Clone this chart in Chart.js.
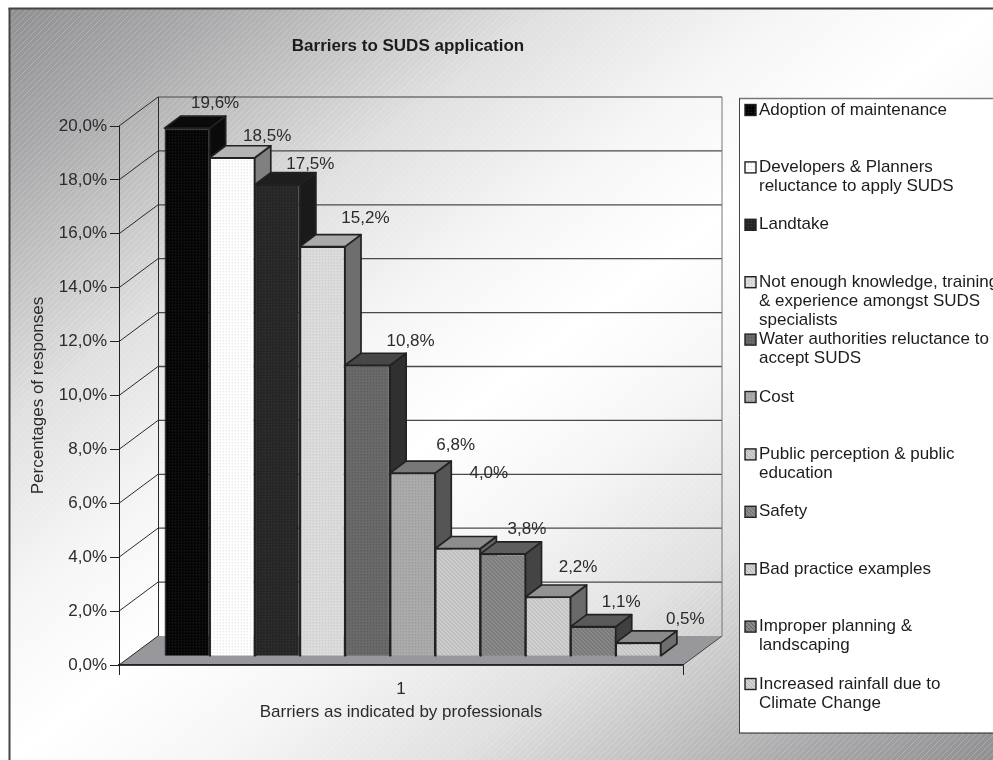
<!DOCTYPE html>
<html>
<head>
<meta charset="utf-8">
<title>Barriers to SUDS application</title>
<script src="https://cdn.jsdelivr.net/npm/chart.js@4/dist/chart.umd.js"></script>
<style>
  html, body { margin: 0; padding: 0; background: #fff; overflow: hidden; }
  canvas { display: block; }
</style>
</head>
<body>
<canvas id="chart" width="993" height="760"></canvas>
<script>
// Survey results, one series per barrier
const categories = ['1'];
const barrierNames = [
  ['Adoption of maintenance'],
  ['Developers & Planners', 'reluctance to apply SUDS'],
  ['Landtake'],
  ['Not enough knowledge, training', '& experience amongst SUDS', 'specialists'],
  ['Water authorities reluctance to', 'accept SUDS'],
  ['Cost'],
  ['Public perception & public', 'education'],
  ['Safety'],
  ['Bad practice examples'],
  ['Improper planning &', 'landscaping'],
  ['Increased rainfall due to', 'Climate Change']
];
const barrierValues = [19.6, 18.5, 17.5, 15.2, 10.8, 6.8, 4.0, 3.8, 2.2, 1.1, 0.5];

const chartTitle = 'Barriers to SUDS application';
const yAxisTitle = 'Percentages of responses';
const xAxisTitle = 'Barriers as indicated by professionals';

// Face shades for each bar: front base, front speckle, top, side
const frontBase = ['#050505', '#ffffff', '#262626', '#dcdcdc', '#6a6a6a', '#ababab', '#cecece', '#8c8c8c', '#d2d2d2', '#8a8a8a', '#d4d4d4'];
const frontDot  = ['#262626', '#d8d8d8', '#3c3c3c', '#c2c2c2', '#4f4f4f', '#8f8f8f', '#b0b0b0', '#6c6c6c', '#b4b4b4', '#626262', '#b2b2b2'];
const topShade  = ['#0a0a0a', '#b4b4b4', '#1e1e1e', '#aaaaaa', '#474747', '#787878', '#8d8d8d', '#5e5e5e', '#929292', '#5a5a5a', '#8a8a8a'];
const sideShade = ['#0a0a0a', '#808080', '#1a1a1a', '#6e6e6e', '#303030', '#555555', '#666666', '#444444', '#6a6a6a', '#404040', '#6e6e6e'];
const textureKind = ['dot', 'dot', 'dot', 'dot', 'dot', 'dot', 'weave', 'weave', 'weave', 'weave', 'weave'];

// Offset of each value label from the centre-top of its bar
const labelNudgeX = [28, 35, 33, 43, 43, 43, 31, 24, 30, 28, 47];
const labelNudgeY = [-25, -21, -20, -28, -24, -28, -75, -25, -30, -24, -24];

// Projection of the box: wall depth, bar plane inset, bar depth
const WALL = { dx: 39, dy: 29 };
const INSET = { dx: 11.7, dy: 8.7 };
const DEPTH = { dx: 16, dy: 12 };
const FRAME = { x: 10, y: 9 };
const FONT = '"Liberation Sans", Arial, sans-serif';
const INK = '#2b2b2b';

// Backdrop shading: distance from the pale diagonal band, and the grey at that distance
const bandOffsets = [0, 0.2, 0.45, 0.65, 0.8, 1];
const bandShades = ['#ffffff', '#f6f6f6', '#e0e0e0', '#c0c0c1', '#a8a8aa', '#909093'];

function makeTexture(base, dot, kind) {
  const size = kind === 'dot' ? 3 : 4;
  const tile = document.createElement('canvas');
  tile.width = tile.height = size;
  const t = tile.getContext('2d');
  t.fillStyle = base;
  t.fillRect(0, 0, size, size);
  t.fillStyle = dot;
  if (kind === 'dot') {
    t.fillRect(1, 1, 1, 1);
  } else {
    for (let i = 0; i < size; i++) {
      t.fillRect(i, i, 1, 1);
    }
  }
  return document.getElementById('chart').getContext('2d').createPattern(tile, 'repeat');
}

function makeHatch() {
  const size = 6;
  const tile = document.createElement('canvas');
  tile.width = tile.height = size;
  const t = tile.getContext('2d');
  t.strokeStyle = 'rgba(255,255,255,0.2)';
  t.lineWidth = 1;
  t.beginPath();
  t.moveTo(-1, 1); t.lineTo(1, -1);
  t.moveTo(-1, size + 1); t.lineTo(size + 1, -1);
  t.moveTo(size - 1, size + 1); t.lineTo(size + 1, size - 1);
  t.stroke();
  return document.getElementById('chart').getContext('2d').createPattern(tile, 'repeat');
}

const textures = barrierValues.map((_, i) => makeTexture(frontBase[i], frontDot[i], textureKind[i]));

function poly(ctx, pts, fill, stroke, width) {
  ctx.beginPath();
  pts.forEach((p, i) => (i ? ctx.lineTo(p[0], p[1]) : ctx.moveTo(p[0], p[1])));
  ctx.closePath();
  if (fill) { ctx.fillStyle = fill; ctx.fill(); }
  if (stroke) { ctx.strokeStyle = stroke; ctx.lineWidth = width; ctx.lineJoin = 'round'; ctx.stroke(); }
}

function line(ctx, x1, y1, x2, y2, color, width) {
  ctx.beginPath();
  ctx.moveTo(x1, y1);
  ctx.lineTo(x2, y2);
  ctx.strokeStyle = color;
  ctx.lineWidth = width;
  ctx.stroke();
}

// Chart frame, walls, floor and the legend panel
const backdrop = {
  id: 'backdrop',
  beforeDraw(chart) {
    const { ctx, width, height, chartArea: a } = chart;
    const y = chart.scales.y;
    const w = width - FRAME.x, h = height - FRAME.y;
    const cx = FRAME.x + w / 2, cy = FRAME.y + h / 2;
    const k = (w * h) / (h * h + w * w);
    const grad = ctx.createLinearGradient(cx - h * k, cy - w * k, cx + h * k, cy + w * k);
    bandOffsets.forEach((t, i) => {
      grad.addColorStop(0.5 + 0.5 * t, bandShades[i]);
      grad.addColorStop(0.5 - 0.5 * t, bandShades[i]);
    });
    ctx.save();
    ctx.fillStyle = '#ffffff';
    ctx.fillRect(0, 0, width, height);
    ctx.fillStyle = grad;
    ctx.fillRect(FRAME.x, FRAME.y, w, h);
    ctx.fillStyle = makeHatch();
    ctx.fillRect(FRAME.x, FRAME.y, w, h);
    line(ctx, FRAME.x - 0.5, FRAME.y - 1, FRAME.x - 0.5, height, '#444', 2);
    line(ctx, FRAME.x - 1.5, FRAME.y - 0.5, width, FRAME.y - 0.5, '#444', 2);

    // Floor
    const base = y.getPixelForValue(0);
    poly(ctx, [[a.left, base], [a.right, base], [a.right + WALL.dx, base - WALL.dy], [a.left + WALL.dx, base - WALL.dy]], '#98989c');
    line(ctx, a.left, base, a.right, base, '#222', 1.5);
    line(ctx, a.right, base, a.right + WALL.dx, base - WALL.dy, '#444', 1);

    // Gridlines on the back and side walls
    y.ticks.forEach((tick) => {
      const py = y.getPixelForValue(tick.value);
      if (tick.value > 0) {
        line(ctx, a.left + WALL.dx, py - WALL.dy, a.right + WALL.dx, py - WALL.dy, tick.value === 20 ? '#707070' : '#4a4a4a', 1.3);
      }
      line(ctx, a.left, py, a.left + WALL.dx, py - WALL.dy, '#2a2a2a', 1);
    });
    const top = y.getPixelForValue(20) - WALL.dy;
    line(ctx, a.left + WALL.dx + 0.5, top, a.left + WALL.dx + 0.5, base - WALL.dy, '#2a2a2a', 1);
    line(ctx, a.right + WALL.dx, top, a.right + WALL.dx, base - WALL.dy, '#777', 1);

    // Legend panel
    ctx.fillStyle = '#ffffff';
    ctx.fillRect(739, 98, width - 739, 635);
    line(ctx, 739, 98.5, width, 98.5, '#777', 1.5);
    line(ctx, 739.5, 98, 739.5, 733, '#444', 1);
    line(ctx, 739, 733, width, 733, '#222', 1.2);
    ctx.restore();
  }
};

// Depth faces behind the fronts, plus the shift of the bars into the box
const barDepth = {
  id: 'barDepth',
  beforeDatasetsDraw(chart) {
    const { ctx } = chart;
    ctx.save();
    ctx.translate(INSET.dx, -INSET.dy);
    barrierValues.forEach((_, i) => {
      const bar = chart.getDatasetMeta(i).data[0];
      const l = bar.x - bar.width / 2, r = bar.x + bar.width / 2;
      const t = bar.y, b = bar.base;
      poly(ctx, [[r, t], [r + DEPTH.dx, t - DEPTH.dy], [r + DEPTH.dx, b - DEPTH.dy], [r, b]], sideShade[i], '#222', 1.7);
      poly(ctx, [[l, t], [l + DEPTH.dx, t - DEPTH.dy], [r + DEPTH.dx, t - DEPTH.dy], [r, t]], topShade[i], '#222', 1.7);
    });
  },
  afterDatasetsDraw(chart) {
    const { ctx } = chart;
    ctx.restore();
    ctx.save();
    ctx.font = '17px ' + FONT;
    ctx.fillStyle = INK;
    ctx.textAlign = 'center';
    ctx.textBaseline = 'middle';
    barrierValues.forEach((v, i) => {
      const bar = chart.getDatasetMeta(i).data[0];
      ctx.fillText(formatPercent(v), bar.x + INSET.dx + labelNudgeX[i], bar.y - INSET.dy + labelNudgeY[i]);
    });
    ctx.restore();
  }
};

// Title and the wrapped legend on the right
const annotations = {
  id: 'annotations',
  afterDraw(chart) {
    const { ctx } = chart;
    ctx.save();
    ctx.textBaseline = 'middle';
    ctx.fillStyle = '#1c1c1c';
    ctx.font = 'bold 17px ' + FONT;
    ctx.textAlign = 'center';
    ctx.fillText(chartTitle, 408, 46);
    ctx.textAlign = 'left';
    ctx.font = '17px ' + FONT;
    barrierNames.forEach((lines, i) => {
      const y = 110 + i * 57.4;
      ctx.fillStyle = textures[i];
      ctx.fillRect(745, y - 5.5, 11, 11);
      ctx.strokeStyle = '#222';
      ctx.lineWidth = 1.4;
      ctx.strokeRect(745, y - 5.5, 11, 11);
      ctx.fillStyle = '#1c1c1c';
      lines.forEach((text, j) => ctx.fillText(text, 759, y + j * 19));
    });
    ctx.restore();
  }
};

function formatPercent(v) {
  return v.toFixed(1).replace('.', ',') + '%';
}

new Chart(document.getElementById('chart'), {
  type: 'bar',
  data: {
    labels: categories,
    datasets: barrierValues.map((v, i) => ({
      label: barrierNames[i].join(' '),
      data: [v],
      backgroundColor: textures[i],
      borderColor: '#222222',
      borderWidth: 1.3,
      categoryPercentage: 0.88,
      barPercentage: 1
    }))
  },
  options: {
    responsive: false,
    animation: false,
    layout: { padding: { top: 126, right: 310, bottom: 0, left: 0 } },
    plugins: {
      legend: { display: false },
      title: { display: false },
      tooltip: { enabled: false }
    },
    scales: {
      x: {
        offset: true,
        afterFit(scale) { scale.height = 95; },
        grid: { offset: true, drawOnChartArea: false, tickLength: 10, color: '#222', tickColor: '#222' },
        border: { color: '#222', width: 1.5 },
        ticks: { color: INK, font: { family: FONT, size: 17 }, padding: 4 },
        title: { display: true, text: xAxisTitle, color: INK, font: { family: FONT, size: 17 }, padding: { top: 0, bottom: 37 } }
      },
      y: {
        min: 0,
        max: 20,
        afterFit(scale) { scale.width = 119; },
        grid: { drawOnChartArea: false, tickLength: 9, color: '#222', tickColor: '#222' },
        border: { color: '#222', width: 1 },
        ticks: { stepSize: 2, color: INK, font: { family: FONT, size: 17 }, padding: 3, callback: (v) => formatPercent(v) },
        title: { display: true, text: yAxisTitle, color: INK, font: { family: FONT, size: 17 }, padding: { top: 28, bottom: 0 } }
      }
    }
  },
  plugins: [backdrop, barDepth, annotations]
});
</script>
</body>
</html>
